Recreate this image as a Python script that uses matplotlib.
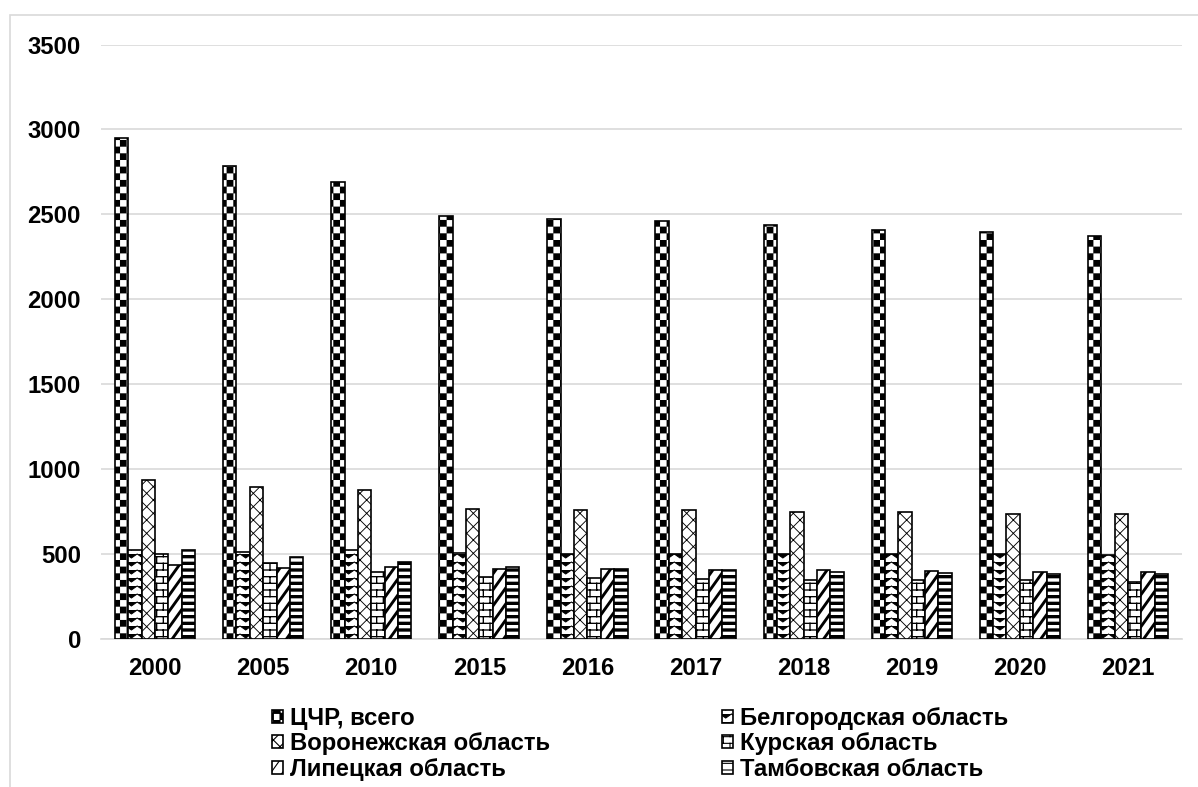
import numpy as np
import matplotlib
matplotlib.use("Agg")
import matplotlib.pyplot as plt
from matplotlib import hatch as mhatch
from matplotlib.path import Path
from matplotlib.patches import Rectangle

# ---------------- data ----------------
years = ["2000", "2005", "2010", "2015", "2016", "2017", "2018", "2019", "2020", "2021"]
series_names = ["ЦЧР, всего", "Белгородская область", "Воронежская область",
                "Курская область", "Липецкая область", "Тамбовская область"]
cchr      = [2950, 2787, 2690, 2493, 2473, 2459, 2435, 2408, 2394, 2370]
belgorod  = [522, 515, 522, 505, 503, 502, 500, 500, 498, 497]
voronezh  = [935, 892, 880, 768, 762, 757, 750, 745, 737, 733]
kursk     = [502, 450, 395, 363, 360, 353, 347, 348, 345, 337]
lipetsk   = [437, 420, 425, 410, 410, 405, 404, 402, 397, 392]
tambov    = [524, 485, 455, 425, 415, 405, 395, 390, 384, 380]
y_ticks   = [0, 500, 1000, 1500, 2000, 2500, 3000, 3500]

# ---------------- custom hatch patterns ----------------
class Checker(mhatch.HatchPatternBase):
    def __init__(self, hatch, density):
        self.n = 12 if '*' in hatch else 0
        self.num_vertices = (self.n * self.n // 2) * 5

    def set_vertices_and_codes(self, vertices, codes):
        n = self.n
        s = 1.0 / n
        k = 0
        for i in range(n):
            for j in range(n):
                if (i + j) % 2 == 0:
                    x0, y0 = j * s, i * s
                    vertices[k:k + 5] = [(x0, y0), (x0 + s, y0), (x0 + s, y0 + s),
                                         (x0, y0 + s), (x0, y0)]
                    codes[k:k + 5] = [Path.MOVETO, Path.LINETO, Path.LINETO,
                                      Path.LINETO, Path.CLOSEPOLY]
                    k += 5


class Zigzag(mhatch.HatchPatternBase):
    def __init__(self, hatch, density):
        self.rows = 10 if 'O' in hatch else 0
        self.teeth = 7
        self.num_vertices = self.rows * (2 * self.teeth + 1)

    def set_vertices_and_codes(self, vertices, codes):
        k = 0
        npts = 2 * self.teeth + 1
        for r in range(self.rows):
            y = (r + 0.25) / self.rows
            for t in range(npts):
                x = t / (2 * self.teeth)
                yy = y + (0.05 if t % 2 == 0 else 0.0)
                vertices[k] = (x, yy)
                codes[k] = Path.MOVETO if t == 0 else Path.LINETO
                k += 1


class Brick(mhatch.HatchPatternBase):
    def __init__(self, hatch, density):
        self.n = 12 if 'o' in hatch else 0
        self.m = 6
        self.num_vertices = self.n * 2 + self.n * self.m * 2 + (self.m * 2 if self.n else 0)

    def set_vertices_and_codes(self, vertices, codes):
        n, m = self.n, self.m
        k = 0
        for i in range(n):
            y = (i + 0.5) / n
            vertices[k] = (0.0, y); codes[k] = Path.MOVETO; k += 1
            vertices[k] = (1.0, y); codes[k] = Path.LINETO; k += 1
        for i in range(n):
            y0 = (i + 0.5) / n
            y1 = (i + 1.5) / n
            for j in range(m):
                x = (j + (0.5 if i % 2 else 0.0)) / m + 0.25 / m
                if i < n - 1:
                    vertices[k] = (x, y0); codes[k] = Path.MOVETO; k += 1
                    vertices[k] = (x, y1); codes[k] = Path.LINETO; k += 1
                else:
                    vertices[k] = (x, y0); codes[k] = Path.MOVETO; k += 1
                    vertices[k] = (x, 1.0); codes[k] = Path.LINETO; k += 1
                    vertices[k] = (x, 0.0); codes[k] = Path.MOVETO; k += 1
                    vertices[k] = (x, y1 - 1.0); codes[k] = Path.LINETO; k += 1


class SteepDiag(mhatch.HatchPatternBase):
    """Steep '/' stripes, periodic in the unit cell."""
    def __init__(self, hatch, density):
        self.k = 7 if '.' in hatch else 0
        self.d = 5
        self.starts = list(range(-self.d - 1, self.k + 1)) if self.k else []
        self.num_vertices = 2 * len(self.starts)

    def set_vertices_and_codes(self, vertices, codes):
        k = 0
        for s in self.starts:
            x0 = s / self.k
            vertices[k] = (x0, 0.0); codes[k] = Path.MOVETO; k += 1
            vertices[k] = (x0 + self.d / self.k, 1.0); codes[k] = Path.LINETO; k += 1


_types = list(mhatch._hatch_types)
for idx, cls in enumerate(_types):
    if cls is mhatch.Stars:
        _types[idx] = Checker
    elif cls is mhatch.LargeCircles:
        _types[idx] = Zigzag
    elif cls is mhatch.SmallCircles:
        _types[idx] = Brick
    elif cls is mhatch.SmallFilledCircles:
        _types[idx] = SteepDiag
mhatch._hatch_types[:] = _types

# ---------------- figure ----------------
W, H, DPI = 1198, 787, 80
plt.rcParams['font.family'] = ['Liberation Sans', 'DejaVu Sans']
plt.rcParams['font.weight'] = 'bold'
FS = 21.5

fig = plt.figure(figsize=(W / DPI, H / DPI), dpi=DPI)
ax = fig.add_axes([101 / W, (H - 639) / H, (1182 - 101) / W, (639 - 44.5) / H])

data = [cchr, belgorod, voronezh, kursk, lipetsk, tambov]
hatches = ['*', 'O', 'xx', 'o', '.', '--']
hatch_lw = [0.1, 0.9, 0.8, 1.2, 2.6, 3.0]

x = np.arange(len(years))
w = 0.1235
handles = []
for k, (vals, hp, hl) in enumerate(zip(data, hatches, hatch_lw)):
    bars = ax.bar(x + (k - 2.5) * w, vals, width=w, facecolor='white',
                  edgecolor='black', linewidth=1.5, hatch=hp, label=series_names[k],
                  zorder=3)
    for b in bars:
        if hasattr(b, 'set_hatch_linewidth'):
            b.set_hatch_linewidth(hl)
    handles.append(bars)

ax.set_xlim(-0.5, len(years) - 0.5)
ax.set_ylim(0, 3500)
ax.set_yticks(y_ticks)
ax.set_yticklabels([str(t) for t in y_ticks])
ax.set_xticks(x)
ax.set_xticklabels(years)
ax.tick_params(axis='both', length=0, labelsize=FS, colors='black')
ax.tick_params(axis='y', pad=18)
ax.tick_params(axis='x', pad=16)
for lab in ax.get_xticklabels() + ax.get_yticklabels():
    lab.set_fontweight('bold')

ax.grid(axis='y', color='#d9d9d9', linewidth=1.5, zorder=0)
ax.set_axisbelow(True)
for side in ['left', 'right', 'top']:
    ax.spines[side].set_visible(False)
ax.spines['bottom'].set_color('#d9d9d9')
ax.spines['bottom'].set_linewidth(1.5)

order = [0, 2, 4, 1, 3, 5]
leg = fig.legend([handles[i] for i in order], [series_names[i] for i in order],
                 ncol=2, loc='upper left', bbox_to_anchor=(272 / W, (H - 707) / H),
                 frameon=False, fontsize=FS, handlelength=0.46, handleheight=0.46,
                 handletextpad=0.3, columnspacing=7.2, labelspacing=0.1,
                 borderpad=0, borderaxespad=0)
for t in leg.get_texts():
    t.set_fontweight('bold')

# outer chart border
fig.patches.append(Rectangle((10 / W, -0.05), 1.2, (H - 15) / H + 0.05,
                             transform=fig.transFigure, fill=False,
                             edgecolor='#d9d9d9', linewidth=1.5, zorder=0))

fig.savefig("out.png", dpi=DPI, facecolor='white')
